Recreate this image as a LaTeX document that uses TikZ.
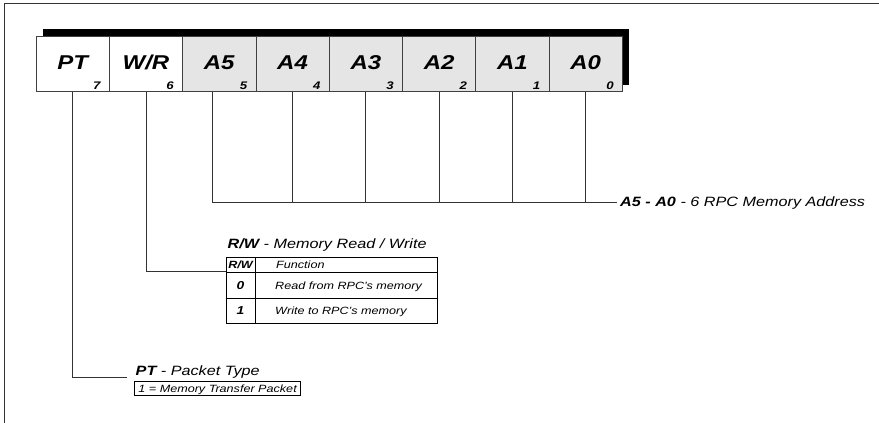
\documentclass[tikz,border=0pt]{standalone}
\usepackage{fontspec}
\setmainfont{Liberation Sans}[FakeStretch=1.2]

\tikzset{
  cell/.style={draw=black!75, line width=0.8pt, minimum width=73.3pt, minimum height=55pt,
    inner sep=0pt, text height=14.3pt, text depth=4.3pt,
    font=\fontsize{20}{24}\selectfont\bfseries\itshape},
  bitno/.style={anchor=south east, inner sep=0pt, font=\fontsize{11}{13}\selectfont\bfseries\itshape},
  heading/.style={anchor=base west, inner sep=1.5pt, font=\fontsize{13.5}{16}\selectfont\itshape},
  small/.style={inner sep=0pt, text height=7.5pt, text depth=0pt, font=\fontsize{10.5}{12}\selectfont\itshape},
  smallbold/.style={inner sep=0pt, font=\fontsize{10.5}{12}\selectfont\bfseries\itshape},
  wire/.style={draw=black!80, line width=0.9pt}
}

\begin{document}
\begin{tikzpicture}[x=1pt,y=-1pt]
        \useasboundingbox (0,0) rectangle (879,423);
        \draw[line width=1pt, black!80] (879,3) -- (4,3) -- (4,423);

        % register
        \fill (42.7,29.3) rectangle (629.3,85);
        \node[cell, fill=white]   (c7) at (72.65,64.2)  {PT};
        \node[cell, fill=white]   (c6) at (145.95,64.2) {W/R};
        \node[cell, fill=gray!20] (c5) at (219.25,64.2) {A5};
        \node[cell, fill=gray!20] (c4) at (292.55,64.2) {A4};
        \node[cell, fill=gray!20] (c3) at (365.85,64.2) {A3};
        \node[cell, fill=gray!20] (c2) at (439.15,64.2) {A2};
        \node[cell, fill=gray!20] (c1) at (512.45,64.2) {A1};
        \node[cell, fill=gray!20] (c0) at (585.75,64.2) {A0};
        \foreach \i in {7,6,5,4,3,2,1,0}
          \node[bitno] (b\i) at ([xshift=-9pt,yshift=2.4pt]c\i.south east) {\i};

        % address bits
        \node[heading] (addr) at (618.5,206.7) {{\bfseries A5 - A0} - 6 RPC Memory Address};
        \coordinate (a5) at (212,202.7);
        \draw[wire] (c5.south -| a5) -- (a5) -- (616.7,202.7);
        \foreach \c in {c4,c3,c2,c1,c0}
          \draw[wire] (\c.south) -- (\c.south |- a5);

        % read / write
        \coordinate (rw) at (226,271.7);
        \draw[wire] (c6.south) |- (rw);
        \node[heading] (rwhead) at (226,248) {{\bfseries R/W} - Memory Read / Write};
        \draw[line width=0.8pt] (226,257.3) rectangle (437.3,323.3);
        \draw[line width=0.8pt] (226,272.7) -- (437.3,272.7) (226,298.3) -- (437.3,298.3)
          (255,257.3) -- (255,323.3);
        \node[smallbold] (rwcol) at (240.5,265) {R/W};
        \node[small, anchor=west] (fncol) at (276,265) {Function};
        \node[smallbold, font=\fontsize{11.5}{13}\selectfont\bfseries\itshape] (rw0) at (240.5,285.5) {0};
        \node[small, anchor=west] (fn0) at (275,285.5) {Read from RPC's memory};
        \node[smallbold, font=\fontsize{11.5}{13}\selectfont\bfseries\itshape] (rw1) at (240.5,310.8) {1};
        \node[small, anchor=west] (fn1) at (275,310.8) {Write to RPC's memory};

        % packet type
        \coordinate (pt) at (126.7,377.7);
        \draw[wire] (c7.south) |- (pt);
        \node[heading] (pthead) at (134,375.7) {{\bfseries PT} - Packet Type};
        \node[small, draw, line width=0.8pt, anchor=north west, inner xsep=4pt, minimum height=14pt]
          (ptbox) at (134,381) {1 = Memory Transfer Packet};
    \end{tikzpicture}
\end{document}
